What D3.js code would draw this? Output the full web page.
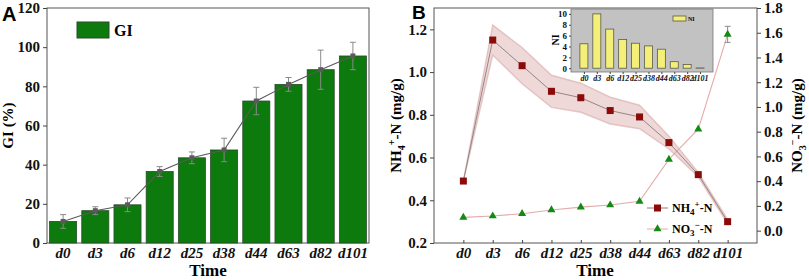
<!DOCTYPE html>
<html>
<head>
<meta charset="utf-8">
<script src="https://cdn.jsdelivr.net/npm/d3@7"></script>
<style>
  body { margin: 0; background: #fff; }
  svg { display: block; }
  text { font-family: "Liberation Serif", "DejaVu Serif", "Times New Roman", serif; }
  text.sans { font-family: "Liberation Sans", Arial, sans-serif; }
</style>
</head>
<body>
<svg id="chart" width="809" height="280"></svg>
<script>
// data
const days = ["d0", "d3", "d6", "d12", "d25", "d38", "d44", "d63", "d82", "d101"];
const giValues = [11, 16.5, 19.5, 36.5, 43.5, 47.5, 72.5, 81, 88.5, 95.5];
const giErr = [3.5, 2, 3.5, 2.5, 3, 6, 7, 3.5, 10, 7];
const nh4Values = [0.49, 1.15, 1.03, 0.91, 0.88, 0.82, 0.79, 0.67, 0.52, 0.30];
const nh4Err = [0, 0.07, 0.085, 0.075, 0.068, 0.063, 0.055, 0.03, 0.01, 0.01];
const no3Values = [0.107, 0.118, 0.137, 0.167, 0.19, 0.207, 0.237, 0.576, 0.82, 1.587];
const no3Err = [0, 0, 0, 0, 0, 0, 0, 0, 0, 0.065];
const niValues = [4.5, 10, 7.2, 5.3, 4.6, 4.1, 3.5, 1.2, 0.7, 0.05];
const giTicks = [0, 20, 40, 60, 80, 100, 120];
const nh4Ticks = [0.2, 0.4, 0.6, 0.8, 1.0, 1.2];
const no3Ticks = [0.0, 0.2, 0.4, 0.6, 0.8, 1.0, 1.2, 1.4, 1.6, 1.8];
const niTicks = [0, 2, 4, 6, 8, 10];

const svg = d3.select("#chart");

function styleAxis(g, size) {
  g.attr("font-family", null);
  g.selectAll("path, line").attr("stroke", "#444").attr("stroke-width", 1);
  g.selectAll("text")
    .attr("font-weight", "bold")
    .attr("font-size", size)
    .attr("fill", "#111");
}

// ---------- Panel A ----------
const plotTop = 8, plotBottom = 243;
const xA = d3.scaleBand().domain(days).range([47, 369]).paddingInner(0.16).paddingOuter(0.08);
const yA = d3.scaleLinear().domain([0, 120]).range([plotBottom, plotTop]);

const gA = svg.append("g");

gA.append("rect")
  .attr("x", 47).attr("y", plotTop)
  .attr("width", 322).attr("height", plotBottom - plotTop)
  .attr("fill", "none").attr("stroke", "#555");

gA.selectAll("rect.bar")
  .data(days)
  .join("rect")
  .attr("class", "bar")
  .attr("x", d => xA(d))
  .attr("y", (d, i) => yA(giValues[i]))
  .attr("width", xA.bandwidth())
  .attr("height", (d, i) => yA(0) - yA(giValues[i]))
  .attr("fill", "#0c7a0c")
  .attr("stroke", "#2c4a2c")
  .attr("stroke-width", 0.8);

const cxA = d => xA(d) + xA.bandwidth() / 2;

// error bars
const errA = gA.append("g").attr("stroke", "#8a8a8a").attr("stroke-width", 1);
days.forEach((d, i) => {
  const x = cxA(d);
  const y1 = yA(giValues[i] + giErr[i]), y0 = yA(giValues[i] - giErr[i]);
  errA.append("line").attr("x1", x).attr("x2", x).attr("y1", y1).attr("y2", y0);
  errA.append("line").attr("x1", x - 3).attr("x2", x + 3).attr("y1", y1).attr("y2", y1);
  errA.append("line").attr("x1", x - 3).attr("x2", x + 3).attr("y1", y0).attr("y2", y0);
});

gA.append("path")
  .attr("d", d3.line().x(d => cxA(d)).y((d, i) => yA(giValues[i]))(days))
  .attr("fill", "none").attr("stroke", "#5a5a5a").attr("stroke-width", 1.1);

gA.selectAll("rect.mk")
  .data(days)
  .join("rect")
  .attr("class", "mk")
  .attr("x", d => cxA(d) - 2.5)
  .attr("y", (d, i) => yA(giValues[i]) - 2.5)
  .attr("width", 5).attr("height", 5)
  .attr("fill", "#5a5a5a");

const axA = gA.append("g")
  .attr("transform", "translate(47,0)")
  .call(d3.axisLeft(yA).tickValues(giTicks).tickSize(4).tickFormat(d3.format("d")));
styleAxis(axA, "15px");
axA.select(".domain").remove();

const axAx = gA.append("g")
  .attr("transform", `translate(0,${plotBottom})`)
  .call(d3.axisBottom(xA).tickSize(0).tickPadding(4));
styleAxis(axAx, "15px");
axAx.select(".domain").remove();
axAx.selectAll("text").attr("font-style", "italic");

gA.append("text")
  .attr("transform", `translate(13,${(plotTop + plotBottom) / 2}) rotate(-90)`)
  .attr("text-anchor", "middle")
  .attr("font-weight", "bold").attr("font-size", "15px")
  .text("GI (%)");

gA.append("text")
  .attr("x", 208).attr("y", 276)
  .attr("text-anchor", "middle")
  .attr("font-weight", "bold").attr("font-size", "17px")
  .text("Time");

gA.append("text")
  .attr("class", "sans")
  .attr("x", 2).attr("y", 21)
  .attr("font-weight", "bold").attr("font-size", "20px")
  .text("A");

// legend A
gA.append("rect")
  .attr("x", 77).attr("y", 22).attr("width", 32).attr("height", 16)
  .attr("fill", "#0c7a0c").attr("stroke", "#2c4a2c");
gA.append("text")
  .attr("x", 114).attr("y", 36)
  .attr("font-weight", "bold").attr("font-size", "16px")
  .text("GI");

// ---------- Panel B ----------
const xB = d3.scalePoint().domain(days).range([434, 757]).padding(1);
const yL = d3.scaleLinear().domain([0.2, 1.3]).range([plotBottom, plotTop]);
const yR = d3.scaleLinear().domain([-0.1, 1.8]).range([plotBottom, plotTop]);

const gB = svg.append("g");

gB.append("rect")
  .attr("x", 434).attr("y", plotTop)
  .attr("width", 757 - 434).attr("height", plotBottom - plotTop)
  .attr("fill", "none").attr("stroke", "#555");

// NH4 band
gB.append("path")
  .attr("d", d3.area()
    .x(d => xB(d))
    .y0((d, i) => yL(nh4Values[i] - nh4Err[i]))
    .y1((d, i) => yL(nh4Values[i] + nh4Err[i]))(days))
  .attr("fill", "#c98585").attr("fill-opacity", 0.32)
  .attr("stroke", "#d9a8a8").attr("stroke-width", 1.4).attr("stroke-opacity", 0.6);

// NO3 line
gB.append("path")
  .attr("d", d3.line().x(d => xB(d)).y((d, i) => yR(no3Values[i]))(days))
  .attr("fill", "none").attr("stroke", "#e6aaaa").attr("stroke-width", 1.1);

// NH4 line
gB.append("path")
  .attr("d", d3.line().x(d => xB(d)).y((d, i) => yL(nh4Values[i]))(days))
  .attr("fill", "none").attr("stroke", "#8c7c7c").attr("stroke-width", 0.9);

// NO3 error bars
const errB = gB.append("g").attr("stroke", "#8a8a8a").attr("stroke-width", 1);
days.forEach((d, i) => {
  if (!no3Err[i]) return;
  const x = xB(d);
  const y1 = yR(no3Values[i] + no3Err[i]), y0 = yR(no3Values[i] - no3Err[i]);
  errB.append("line").attr("x1", x).attr("x2", x).attr("y1", y1).attr("y2", y0);
  errB.append("line").attr("x1", x - 3).attr("x2", x + 3).attr("y1", y1).attr("y2", y1);
  errB.append("line").attr("x1", x - 3).attr("x2", x + 3).attr("y1", y0).attr("y2", y0);
});

const tri = d3.symbol().type(d3.symbolTriangle).size(28);
gB.selectAll("path.no3")
  .data(days)
  .join("path")
  .attr("class", "no3")
  .attr("transform", (d, i) => `translate(${xB(d)},${yR(no3Values[i])})`)
  .attr("d", tri())
  .attr("fill", "#148a14");

gB.selectAll("rect.nh4")
  .data(days)
  .join("rect")
  .attr("class", "nh4")
  .attr("x", d => xB(d) - 3.5)
  .attr("y", (d, i) => yL(nh4Values[i]) - 3.5)
  .attr("width", 7).attr("height", 7)
  .attr("fill", "#8b0a0a");

const axL = gB.append("g")
  .attr("transform", "translate(434,0)")
  .call(d3.axisLeft(yL).tickValues(nh4Ticks).tickSize(4).tickFormat(d3.format(".1f")));
styleAxis(axL, "15px");
axL.select(".domain").remove();

const axR = gB.append("g")
  .attr("transform", "translate(757,0)")
  .call(d3.axisRight(yR).tickValues(no3Ticks).tickSize(4).tickFormat(d3.format(".1f")));
styleAxis(axR, "15px");
axR.select(".domain").remove();

const axBx = gB.append("g")
  .attr("transform", `translate(0,${plotBottom})`)
  .call(d3.axisBottom(xB).tickSize(-3).tickPadding(4));
styleAxis(axBx, "15px");
axBx.select(".domain").remove();
axBx.selectAll("text").attr("font-style", "italic");

gB.append("text")
  .attr("x", 595).attr("y", 276)
  .attr("text-anchor", "middle")
  .attr("font-weight", "bold").attr("font-size", "17px")
  .text("Time");

const labL = gB.append("text")
  .attr("transform", `translate(401,${(plotTop + plotBottom) / 2}) rotate(-90)`)
  .attr("text-anchor", "middle")
  .attr("font-weight", "bold").attr("font-size", "15px");
labL.append("tspan").text("NH");
labL.append("tspan").attr("font-size", "10px").attr("dy", 4).text("4");
labL.append("tspan").attr("font-size", "10px").attr("dy", -10).text("+");
labL.append("tspan").attr("dy", 6).text("-N (mg/g)");

const labR = gB.append("text")
  .attr("transform", `translate(802,${(plotTop + plotBottom) / 2}) rotate(-90)`)
  .attr("text-anchor", "middle")
  .attr("font-weight", "bold").attr("font-size", "15px");
labR.append("tspan").text("NO");
labR.append("tspan").attr("font-size", "10px").attr("dy", 4).text("3");
labR.append("tspan").attr("font-size", "10px").attr("dy", -10).text("\u2212");
labR.append("tspan").attr("dy", 6).text("-N (mg/g)");

gB.append("text")
  .attr("class", "sans")
  .attr("x", 412).attr("y", 19)
  .attr("font-weight", "bold").attr("font-size", "19px")
  .text("B");

// legend B
const legB = gB.append("g").attr("font-weight", "bold").attr("font-size", "12px");
legB.append("line").attr("x1", 647).attr("x2", 668).attr("y1", 208).attr("y2", 208).attr("stroke", "#8c7c7c");
legB.append("rect").attr("x", 654).attr("y", 204.5).attr("width", 7).attr("height", 7).attr("fill", "#8b0a0a");
const t1 = legB.append("text").attr("x", 672).attr("y", 212);
t1.append("tspan").text("NH");
t1.append("tspan").attr("font-size", "9px").attr("dy", 3).text("4");
t1.append("tspan").attr("font-size", "9px").attr("dy", -8).text("+");
t1.append("tspan").attr("dy", 5).text("-N");
legB.append("line").attr("x1", 647).attr("x2", 668).attr("y1", 229).attr("y2", 229).attr("stroke", "#e6aaaa");
legB.append("path").attr("transform", "translate(657.5,229)").attr("d", tri()).attr("fill", "#148a14");
const t2 = legB.append("text").attr("x", 672).attr("y", 233);
t2.append("tspan").text("NO");
t2.append("tspan").attr("font-size", "9px").attr("dy", 3).text("3");
t2.append("tspan").attr("font-size", "9px").attr("dy", -8).text("\u2212");
t2.append("tspan").attr("dy", 5).text("-N");

// ---------- Inset NI ----------
const xI = d3.scalePoint().domain(days).range([571, 713]).padding(1);
const yI = d3.scaleLinear().domain([-0.7, 10.9]).range([72, 9]);
const gI = svg.append("g");

gI.append("rect")
  .attr("x", 571).attr("y", 9).attr("width", 713 - 571).attr("height", 72 - 9)
  .attr("fill", "#c2c2c2").attr("stroke", "#777").attr("stroke-width", 0.8);

gI.selectAll("rect.ni")
  .data(days)
  .join("rect")
  .attr("class", "ni")
  .attr("x", d => xI(d) - 4)
  .attr("y", (d, i) => yI(niValues[i]))
  .attr("width", 8)
  .attr("height", (d, i) => yI(0) - yI(niValues[i]))
  .attr("fill", "#f4ef78").attr("stroke", "#5a5a4a").attr("stroke-width", 0.8);

const axI = gI.append("g")
  .attr("transform", "translate(571,0)")
  .call(d3.axisLeft(yI).tickValues(niTicks).tickSize(2).tickPadding(2).tickFormat(d3.format("d")));
styleAxis(axI, "9px");
axI.select(".domain").remove();

const axIx = gI.append("g")
  .attr("transform", "translate(0,72)")
  .call(d3.axisBottom(xI).tickSize(2).tickPadding(1));
styleAxis(axIx, "8px");
axIx.select(".domain").remove();
axIx.selectAll("text").attr("font-style", "italic");

gI.append("text")
  .attr("transform", "translate(559,40) rotate(-90)")
  .attr("text-anchor", "middle")
  .attr("font-weight", "bold").attr("font-size", "10px")
  .text("NI");

gI.append("rect")
  .attr("x", 673).attr("y", 16).attr("width", 13).attr("height", 5)
  .attr("fill", "#f4ef78").attr("stroke", "#5a5a4a").attr("stroke-width", 0.8);
gI.append("text")
  .attr("x", 688).attr("y", 21)
  .attr("font-weight", "bold").attr("font-size", "6px")
  .text("NI");
</script>
</body>
</html>
